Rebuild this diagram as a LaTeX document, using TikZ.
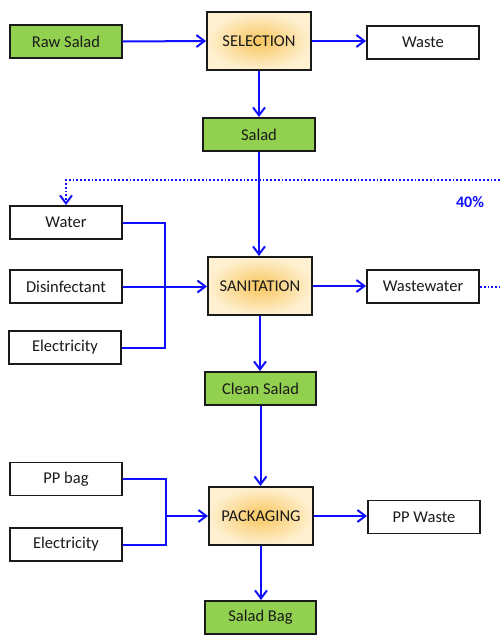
\documentclass[tikz,border=0pt]{standalone}
\usepackage{fontspec}
\setmainfont{Carlito}
\usetikzlibrary{arrows.meta}
\definecolor{leaf}{HTML}{92D050}
\definecolor{flow}{HTML}{1010FF}
\definecolor{glowin}{HTML}{F8C65E}
\definecolor{glowout}{HTML}{FEF0D0}
\definecolor{ink}{HTML}{1A1A1A}
\begin{document}
\begin{tikzpicture}[x=1pt,y=-1pt,
  box/.style={draw=ink, line width=1.9pt, minimum width=112pt, minimum height=33pt,
    inner sep=0pt, text=ink, font=\fontsize{16.5}{19}\selectfont},
  product/.style={box, fill=leaf},
  plain/.style={box, fill=white},
  process/.style={box, minimum width=104pt, minimum height=58pt,
    inner color=glowin, outer color=glowout},
  flowline/.style={draw=flow, line width=2pt},
  arrowed/.style={flowline, -{Straight Barb[length=8pt,width=12pt,line width=2pt]}},
  recycle/.style={draw=flow, line width=2pt, dash pattern=on 1.8pt off 2pt}
]
\useasboundingbox (0,0) rectangle (500,635);

% main process chain
\node[process] (sel) at (259,41) {SELECTION};
\node[process] (san) at (260,286) {SANITATION};
\node[process] (pack) at (261,516) {PACKAGING};

% products
\node[product] (raw) at (66,41.5) {Raw Salad};
\node[product] (salad) at (259,134.5) {Salad};
\node[product, minimum width=111pt] (clean) at (260.5,388.5) {Clean Salad};
\node[product, minimum width=111pt] (bag) at (260.5,617.5) {Salad Bag};

% outputs
\node[plain] (waste) at (423,42.5) {Waste};
\node[plain] (ww) at (423,286.5) {Wastewater};
\node[plain] (ppw) at (424,517) {PP Waste};

% sanitation inputs
\node[plain] (water) at (66,222.5) {Water};
\node[plain] (dis) at (66,286.5) {Disinfectant};
\node[plain] (elecA) at (65,347.5) {Electricity};

% packaging inputs
\node[plain] (ppbag) at (66,479) {PP bag};
\node[plain] (elecB) at (66,544.5) {Electricity};

% junction points of the input manifolds
\coordinate (jA) at (165,286.5);
\coordinate (jB) at (166,516);

% flows
\draw[arrowed] (raw.east) -- (sel.west);
\draw[arrowed] (sel.east) -- (sel.east -| waste.west);
\draw[arrowed] (sel.south) -- (salad.north);
\draw[arrowed] (salad.south) -- (salad.south |- san.north);
\draw[arrowed] (san.east) -- (san.east -| ww.west);
\draw[arrowed] (san.south) -- (san.south |- clean.north);
\draw[arrowed] (clean.south) -- (clean.south |- pack.north);
\draw[arrowed] (pack.east) -- (pack.east -| ppw.west);
\draw[arrowed] (pack.south) -- (pack.south |- bag.north);

\draw[flowline] (water.east) -| (jA) |- (elecA.east);
\draw[arrowed] (dis.east) -- (dis.east -| san.west);
\draw[flowline] (ppbag.east) -| (jB) |- (elecB.east);
\draw[arrowed] (jB) -- (jB -| pack.west);

% wastewater recycling loop
\coordinate (rimA) at (500,286.5);
\coordinate (rimB) at (500,180);
\draw[recycle] (ww.east) -- (rimA);
\draw[recycle, -{Straight Barb[length=8pt,width=12pt,line width=2pt]}] (rimB) -| (water.north);
\node[text=flow, font=\fontsize{16}{18}\selectfont\bfseries] (pct) at (470,202) {40\%};
\end{tikzpicture}
\end{document}
